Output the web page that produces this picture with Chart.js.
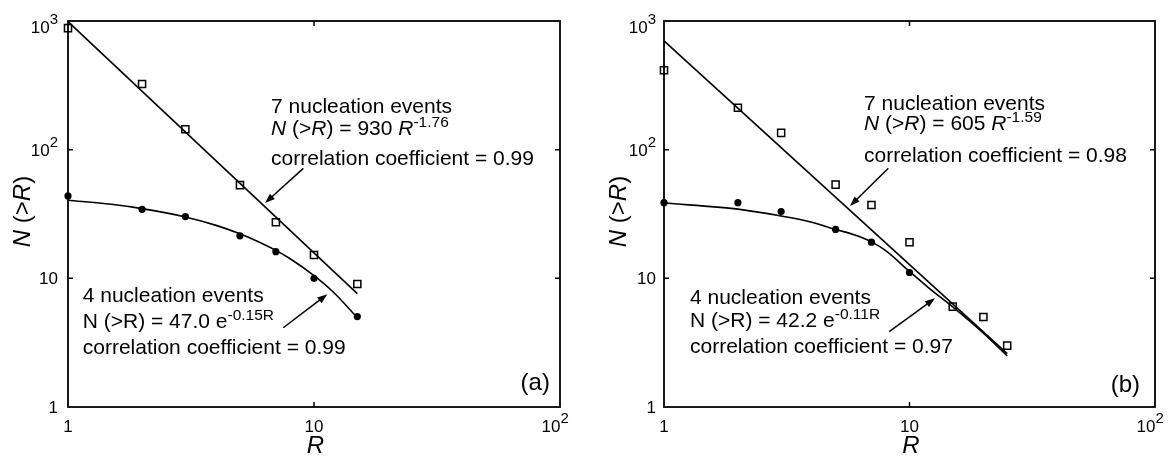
<!DOCTYPE html>
<html><head><meta charset="utf-8">
<script src="https://cdn.jsdelivr.net/npm/chart.js@4.4.1/dist/chart.umd.min.js"></script>
<style>
html,body{margin:0;padding:0;background:#fff;overflow:hidden}
#wrap{position:relative;width:1172px;height:456px;background:#fff}
canvas{position:absolute;top:0}
#ca{left:0}
#cb{left:586px}
</style></head><body>
<div id="wrap"><canvas id="ca" width="586" height="456"></canvas><canvas id="cb" width="586" height="456"></canvas></div>
<script>
// ---------- Panel (a) data ----------
const rA_sq = [1, 2, 3, 5, 7, 10, 15];
const nA_sq = [880, 324, 144, 53, 27.3, 15.2, 9.05];
const rA_ci = [1, 2, 3, 5, 7, 10, 15];
const nA_ci = [43.7, 34.4, 30.2, 21.4, 16.1, 10, 5.04];
const rA_pow = [1, 15];
const nA_pow = [990, 7.6];
const rA_exp = [1, 1.5, 2, 3, 4, 5, 6, 7, 8, 10, 12, 15];
const nA_exp = [40.5, 37.6, 34.8, 30, 25.8, 22.2, 19.1, 16.5, 14.2, 10.5, 7.8, 4.95];
// ---------- Panel (b) data ----------
const rB_sq = [1, 2, 3, 5, 7, 10, 15, 20, 25];
const nB_sq = [414, 212, 135, 53.5, 37.2, 19.1, 6.03, 5.01, 3.0];
const rB_ci = [1, 2, 3, 5, 7, 10];
const nB_ci = [38.7, 38.7, 33, 24, 19.1, 11.1];
const rB_pow = [1, 25];
const nB_pow = [700, 2.6];
const rB_exp = [1, 2, 3, 4, 5, 6, 7, 8, 10, 12, 15, 20, 25];
const nB_exp = [38.5, 34.5, 30.5, 27.3, 24, 21.7, 19.2, 16.4, 11.3, 8.4, 6.0, 3.75, 2.5];
// ---------- Axes ----------
const xTickValues = [1, 10, 100];
const xTickLabels = [['1', ''], ['10', ''], ['10', '2']];
const yTickValues = [1, 10, 100, 1000];
const yTickLabels = [['1', ''], ['10', ''], ['10', '2'], ['10', '3']];
const innerTickX = [10];
const innerTickY = [10, 100];

const FONT = "'Liberation Sans', Arial, Helvetica, sans-serif";

function pts(xs, ys) { return xs.map((x, i) => ({x: x, y: ys[i]})); }
function fontFor(s, size, supSize) {
  return (s.i ? 'italic ' : '') + (s.sup ? supSize : size) + 'px ' + FONT;
}
function drawRich(ctx, segs, x, y, size, supSize, raise, align) {
  const w = segs.map(s => { ctx.font = fontFor(s, size, supSize); return ctx.measureText(s.t).width; });
  const total = w.reduce((a, b) => a + b, 0);
  let sx = align === 'right' ? x - total : align === 'center' ? x - total / 2 : x;
  ctx.textAlign = 'left';
  ctx.textBaseline = 'alphabetic';
  segs.forEach((s, k) => {
    ctx.font = fontFor(s, size, supSize);
    ctx.fillText(s.t, sx, s.sup ? y - raise : y);
    sx += w[k];
  });
  return total;
}
function arrow(ctx, x1, y1, x2, y2) {
  const ang = Math.atan2(y2 - y1, x2 - x1);
  const L = 10, H = 3.6;
  ctx.beginPath();
  ctx.moveTo(x1, y1);
  ctx.lineTo(x2 - Math.cos(ang) * (L - 1), y2 - Math.sin(ang) * (L - 1));
  ctx.lineWidth = 1.5;
  ctx.stroke();
  ctx.beginPath();
  ctx.moveTo(x2, y2);
  ctx.lineTo(x2 - L * Math.cos(ang) + H * Math.sin(ang), y2 - L * Math.sin(ang) - H * Math.cos(ang));
  ctx.lineTo(x2 - L * Math.cos(ang) - H * Math.sin(ang), y2 - L * Math.sin(ang) + H * Math.cos(ang));
  ctx.closePath();
  ctx.fill();
}

// annotation definitions (anchors in data coordinates)
const annotA = {
  blocks: [
    {at: [6.69, 194], dy: [0, 22.3, 52.3], lines: [
      [{t: '7 nucleation events'}],
      [{t: 'N', i: 1}, {t: ' (>'}, {t: 'R', i: 1}, {t: ') = 930 '}, {t: 'R', i: 1}, {t: '-1.76', sup: 1}],
      [{t: 'correlation coefficient = 0.99'}]]},
    {at: [1.148, 6.58], dy: [0, 26.3, 52.3], lines: [
      [{t: '4 nucleation events'}],
      [{t: 'N (>R) = 47.0 e'}, {t: '-0.15R', sup: 1}],
      [{t: 'correlation coefficient = 0.99'}]]}
  ],
  arrows: [[9.05, 71.6, 6.32, 38.5], [7.5, 4.13, 11.33, 7.52]],
  label: {t: '(a)', at: [91.0, 1.356]},
  yLabOff: 10
};
const annotB = {
  blocks: [
    {at: [6.53, 203.4], dy: [0, 20.5, 51.7], lines: [
      [{t: '7 nucleation events'}],
      [{t: 'N', i: 1}, {t: ' (>'}, {t: 'R', i: 1}, {t: ') = 605 '}, {t: 'R', i: 1}, {t: '-1.59', sup: 1}],
      [{t: 'correlation coefficient = 0.98'}]]},
    {at: [1.276, 6.32], dy: [0, 23.5, 49.5], lines: [
      [{t: '4 nucleation events'}],
      [{t: 'N (>R) = 42.2 e'}, {t: '-0.11R', sup: 1}],
      [{t: 'correlation coefficient = 0.97'}]]}
  ],
  arrows: [[8.20, 71.6, 5.72, 36.5], [8.27, 3.85, 12.7, 7.0]],
  label: {t: '(b)', at: [86.9, 1.308]},
  yLabOff: 8
};

const decor = {
  id: 'decor',
  afterDatasetsDraw(chart, args, opts) {
    const ctx = chart.ctx, ca = chart.chartArea;
    const xs = chart.scales.x, ys = chart.scales.y;
    const A = opts.annot;
    ctx.save();
    ctx.strokeStyle = '#000';
    ctx.fillStyle = '#000';
    // frame
    ctx.lineWidth = 1.8;
    ctx.strokeRect(ca.left, ca.top, ca.right - ca.left, ca.bottom - ca.top);
    // inner ticks
    ctx.lineWidth = 1.5;
    ctx.beginPath();
    innerTickX.forEach(v => {
      const p = xs.getPixelForValue(v);
      ctx.moveTo(p, ca.bottom); ctx.lineTo(p, ca.bottom - 5);
      ctx.moveTo(p, ca.top); ctx.lineTo(p, ca.top + 5);
    });
    innerTickY.forEach(v => {
      const p = ys.getPixelForValue(v);
      ctx.moveTo(ca.left, p); ctx.lineTo(ca.left + 5, p);
      ctx.moveTo(ca.right, p); ctx.lineTo(ca.right - 5, p);
    });
    ctx.stroke();
    // tick labels
    xTickValues.forEach((v, k) => {
      const p = xs.getPixelForValue(v);
      const [b, e] = xTickLabels[k];
      const y = ca.bottom + 24.5;
      if (e) {
        ctx.font = '17px ' + FONT;
        const bw = ctx.measureText(b).width;
        drawRich(ctx, [{t: b}, {t: e, sup: 1}], p - 9 - bw / 2, y, 17, 15, 9, 'left');
      } else {
        drawRich(ctx, [{t: b}], p, y, 17, 15, 9, 'center');
      }
    });
    yTickValues.forEach((v, k) => {
      const p = ys.getPixelForValue(v);
      const [b, e] = yTickLabels[k];
      const y = Math.max(p + 6, ca.top + 12);
      const segs = e ? [{t: b}, {t: e, sup: 1}] : [{t: b}];
      drawRich(ctx, segs, ca.left - A.yLabOff, y, 17, 15, 9, 'right');
    });
    // axis titles
    drawRich(ctx, [{t: 'R', i: 1}], xs.getPixelForValue(10) + 1.5, ca.bottom + 46, 24, 24, 0, 'center');
    ctx.save();
    ctx.translate(ca.left - 46.5, (ca.top + ca.bottom) / 2 - 2.5);
    ctx.rotate(-Math.PI / 2);
    drawRich(ctx, [{t: 'N', i: 1}, {t: ' (>'}, {t: 'R', i: 1}, {t: ')'}], 0, 8.5, 24, 24, 0, 'center');
    ctx.restore();
    // annotation blocks
    A.blocks.forEach(bl => {
      const x = xs.getPixelForValue(bl.at[0]);
      const y = ys.getPixelForValue(bl.at[1]);
      bl.lines.forEach((ln, k) => drawRich(ctx, ln, x, y + bl.dy[k], 21, 15.5, 8, 'left'));
    });
    // arrows
    A.arrows.forEach(a => arrow(ctx, xs.getPixelForValue(a[0]), ys.getPixelForValue(a[1]),
                                     xs.getPixelForValue(a[2]), ys.getPixelForValue(a[3])));
    // panel label
    drawRich(ctx, [{t: A.label.t}], xs.getPixelForValue(A.label.at[0]), ys.getPixelForValue(A.label.at[1]), 24, 24, 0, 'right');
    ctx.restore();
  }
};

function makeChart(id, sq, ci, pw, ex, pad, annot) {
  return new Chart(document.getElementById(id), {
    type: 'scatter',
    data: {
      datasets: [
        {data: sq, showLine: false, pointStyle: 'rect', pointRadius: 5, pointBorderWidth: 1.5,
         borderColor: '#000', backgroundColor: 'rgba(0,0,0,0)', clip: false, order: 0},
        {data: ci, showLine: false, pointStyle: 'circle', pointRadius: 3.6, pointBorderWidth: 0,
         borderColor: '#000', backgroundColor: '#000', clip: false, order: 0},
        {data: pw, showLine: true, pointRadius: 0, borderColor: '#000', borderWidth: 1.6, clip: false, order: 1},
        {data: ex, showLine: true, pointRadius: 0, borderColor: '#000', borderWidth: 1.6,
         cubicInterpolationMode: 'monotone', clip: false, order: 1}
      ]
    },
    options: {
      responsive: false, animation: false, devicePixelRatio: 1, events: [],
      layout: {padding: pad},
      plugins: {legend: {display: false}, tooltip: {enabled: false}, decor: {annot: annot}},
      scales: {
        x: {type: 'logarithmic', min: 1, max: 100, display: false},
        y: {type: 'logarithmic', min: 1, max: 1000, display: false}
      }
    },
    plugins: [decor]
  });
}

makeChart('ca', pts(rA_sq, nA_sq), pts(rA_ci, nA_ci), pts(rA_pow, nA_pow), pts(rA_exp, nA_exp),
  {left: 68, right: 26, top: 21, bottom: 49}, annotA);
makeChart('cb', pts(rB_sq, nB_sq), pts(rB_ci, nB_ci), pts(rB_pow, nB_pow), pts(rB_exp, nB_exp),
  {left: 78, right: 17, top: 21, bottom: 49}, annotB);
</script>
</body></html>
